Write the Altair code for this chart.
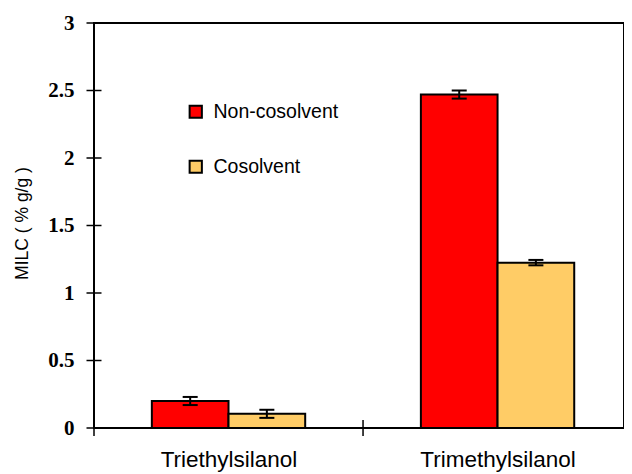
import altair as alt
import pandas as pd

categories = ["Triethylsilanol", "Trimethylsilanol"]
series = ["Non-cosolvent", "Cosolvent"]
non_cosolvent = [0.20, 2.47]
cosolvent = [0.105, 1.225]
non_cosolvent_err = [0.03, 0.03]
cosolvent_err = [0.03, 0.02]
y_ticks = [0, 0.5, 1, 1.5, 2, 2.5, 3]
x_ticks = [0, 1, 2]
colors = ["#FF0000", "#FFCC66"]

bw = 0.285
rows = []
for i, cat in enumerate(categories):
    c = i + 0.5
    for s, vals, errs, sign in [(series[0], non_cosolvent, non_cosolvent_err, -1),
                                (series[1], cosolvent, cosolvent_err, 1)]:
        left = c if sign > 0 else c - bw
        right = c + bw if sign > 0 else c
        mid = (left + right) / 2
        rows.append(dict(category=cat, series=s, value=vals[i], x0=left, x1=right,
                         xm=mid, lo=vals[i] - errs[i], hi=vals[i] + errs[i]))
df = pd.DataFrame(rows)

label_expr = " : ".join(
    [f"datum.value == {i + 0.5} ? '{c}'" for i, c in enumerate(categories)] + ["''"]
)

xscale = alt.Scale(domain=[0, 1.97], nice=False, zero=False)
yscale = alt.Scale(domain=[0, 3], nice=False)

x_axis = alt.Axis(values=[i + 0.5 for i in range(len(categories))], labelExpr=label_expr,
                  ticks=False, domain=False, grid=False, title=None,
                  labelFont="Liberation Sans", labelFontSize=22.5, labelColor="black",
                  labelPadding=20)
y_axis = alt.Axis(values=y_ticks, format="~g", ticks=False, domain=False, grid=False,
                  labelFont="Liberation Serif", labelFontWeight="bold", labelFontSize=21,
                  labelColor="black", labelPadding=20,
                  title="MILC ( % g/g )", titleFont="Liberation Sans", titleFontSize=17.5,
                  titleFontWeight="normal", titleColor="black", titleX=-72, titleY=200,
                  titleAngle=270, titleBaseline="middle", titleAlign="center")

bars = alt.Chart(df).mark_bar(stroke="black", strokeWidth=2).encode(
    x=alt.X("x0:Q", scale=xscale, axis=x_axis),
    x2="x1:Q",
    y=alt.Y("value:Q", scale=yscale, axis=y_axis),
    y2=alt.datum(0),
    fill=alt.Fill("series:N", scale=alt.Scale(domain=series, range=colors),
                  legend=alt.Legend(orient="none", legendX=92, legendY=79, title=None,
                                    symbolType="square", symbolSize=150,
                                    symbolStrokeColor="black", symbolStrokeWidth=2,
                                    labelFont="Liberation Sans", labelFontSize=19.5,
                                    labelColor="black", labelOffset=8, rowPadding=34,
                                    padding=0)),
)

err_rule = alt.Chart(df).mark_rule(color="black", strokeWidth=2).encode(
    x="xm:Q", y="lo:Q", y2="hi:Q"
)
err_lo = alt.Chart(df).mark_tick(color="black", orient="horizontal", size=15,
                                 thickness=2, opacity=1).encode(x="xm:Q", y="lo:Q")
err_hi = alt.Chart(df).mark_tick(color="black", orient="horizontal", size=15,
                                 thickness=2, opacity=1).encode(x="xm:Q", y="hi:Q")

ydf = pd.DataFrame({"y": y_ticks, "x": [0] * len(y_ticks)})
yt = alt.Chart(ydf).mark_tick(color="black", orient="horizontal", size=15,
                              thickness=1.5, opacity=1).encode(x="x:Q", y="y:Q")
xdf = pd.DataFrame({"x": x_ticks, "y": [0] * len(x_ticks)})
xt = alt.Chart(xdf).mark_tick(color="black", orient="vertical", size=16,
                              thickness=1.5, opacity=1).encode(x="x:Q", y="y:Q")

chart = alt.layer(bars, err_rule, err_lo, err_hi, yt, xt).properties(
    width=530, height=405,
    autosize=alt.AutoSizeParams(type="none"),
    padding={"left": 86, "top": 15, "right": 0, "bottom": 46},
).configure_view(stroke="black", strokeWidth=2)

chart.save("out.html", embed_options={"renderer": "svg", "actions": False})
